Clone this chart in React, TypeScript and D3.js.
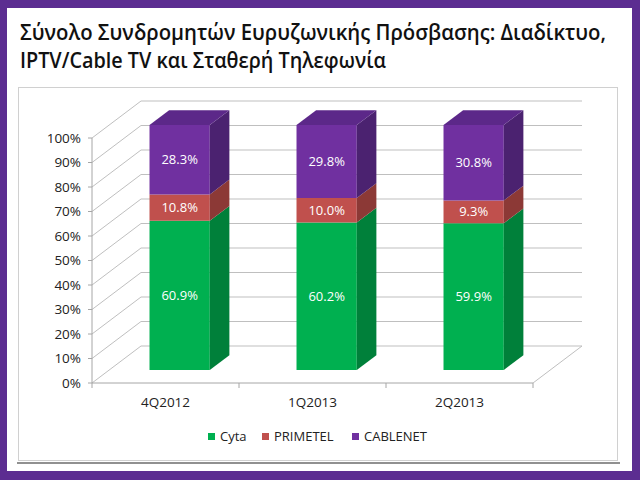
import * as d3 from "d3";

const CATEGORIES = ["4Q2012", "1Q2013", "2Q2013"];
const CYTA = [60.9, 60.2, 59.9];
const PRIMETEL = [10.8, 10.0, 9.3];
const CABLENET = [28.3, 29.8, 30.8];
const Y_TICKS = [0, 10, 20, 30, 40, 50, 60, 70, 80, 90, 100];

const TITLE_1 = "Σύνολο Συνδρομητών Ευρυζωνικής Πρόσβασης: Διαδίκτυο,";
const TITLE_2 = "IPTV/Cable TV και Σταθερή Τηλεφωνία";

const SERIES = [
  { name: "Cyta", values: CYTA, front: "#00B050", side: "#00803A", top: "#009E48" },
  { name: "PRIMETEL", values: PRIMETEL, front: "#C0504D", side: "#8C3936", top: "#A64442" },
  { name: "CABLENET", values: CABLENET, front: "#7030A0", side: "#4B2270", top: "#5C2889" },
];

const W = 640;
const H = 480;
const FRONT_LEFT = 92;
const FRONT_RIGHT = 533;
const FLOOR_Y = 383;
const DEPTH = { dx: 49, dy: -37 };
// bars sit between these fractions of the depth
const BAR_NEAR = 0.35;
const BAR_FAR = 0.75;
const FONT = "'Open Sans', 'Noto Sans', sans-serif";

export default function App() {
  const x = d3.scaleBand<string>().domain(CATEGORIES).range([FRONT_LEFT, FRONT_RIGHT]);
  const y = d3.scaleLinear().domain([0, 100]).range([0, 245]);
  const barW = x.bandwidth() * 0.41;

  // front-floor point -> screen point, pushed back by depth fraction d
  const pt = (px: number, v: number, d: number): [number, number] => [
    px + d * DEPTH.dx,
    FLOOR_Y - y(v) + d * DEPTH.dy,
  ];
  const poly = (pts: [number, number][]) => pts.map((p) => p.join(",")).join(" ");

  const backLeft = FRONT_LEFT + DEPTH.dx;
  const backRight = FRONT_RIGHT + DEPTH.dx;
  const grid = "#BFBFBF";
  const axis = "#A6A6A6";

  const bars = CATEGORIES.map((c, i) => {
    const x0 = x(c)! + (x.bandwidth() - barW) / 2 - 3;
    const x1 = x0 + barW;
    let acc = 0;
    const segs = SERIES.map((s, si) => {
      const v0 = acc;
      const v1 = acc + s.values[i];
      acc = v1;
      const isTop = si === SERIES.length - 1;
      const fBL = pt(x0, v0, BAR_NEAR);
      const fBR = pt(x1, v0, BAR_NEAR);
      const fTR = pt(x1, v1, BAR_NEAR);
      const fTL = pt(x0, v1, BAR_NEAR);
      const bBR = pt(x1, v0, BAR_FAR);
      const bTR = pt(x1, v1, BAR_FAR);
      const bTL = pt(x0, v1, BAR_FAR);
      return (
        <g key={s.name}>
          <polygon points={poly([fBL, fBR, fTR, fTL])} fill={s.front} />
          <polygon points={poly([fBR, bBR, bTR, fTR])} fill={s.side} />
          {isTop && <polygon points={poly([fTL, fTR, bTR, bTL])} fill={s.top} />}
          <text
            x={(fBL[0] + fBR[0]) / 2}
            y={(fBL[1] + fTL[1]) / 2}
            dy="0.35em"
            textAnchor="middle"
            fill="#FFFFFF"
            fontSize={13}
            fontFamily={FONT}
          >
            {s.values[i].toFixed(1)}%
          </text>
        </g>
      );
    });
    return <g key={c}>{segs}</g>;
  });

  const legendItems = [
    { x: 208, label: "Cyta" },
    { x: 262, label: "PRIMETEL" },
    { x: 352, label: "CABLENET" },
  ];

  return (
    <svg
      width={W}
      height={H}
      style={{ position: "absolute", left: 0, top: 0, display: "block" }}
    >
      <rect x={0} y={0} width={W} height={H} fill="#5C2D91" />
      <rect x={7} y={8} width={625} height={463} fill="#FFFFFF" />

      <text x={20} y={40} fontFamily={FONT} fontWeight={600} fontSize={21} fill="#111"
        textLength={586} lengthAdjust="spacingAndGlyphs">
        {TITLE_1}
      </text>
      <text x={20} y={68} fontFamily={FONT} fontWeight={600} fontSize={21} fill="#111"
        textLength={366} lengthAdjust="spacingAndGlyphs">
        {TITLE_2}
      </text>

      <line x1={17} x2={620} y1={463} y2={463} stroke="#222" strokeWidth={1.2} />
      <rect x={18.5} y={87.5} width={599} height={373} fill="#FFFFFF" stroke="#D0D0D0" />

      {/* back wall + side wall gridlines */}
      {Y_TICKS.map((t) => {
        const [fx, fy] = pt(FRONT_LEFT, t, 0);
        const [bx, by] = pt(FRONT_LEFT, t, 1);
        return (
          <g key={t}>
            <line x1={fx} y1={fy} x2={bx} y2={by} stroke={grid} />
            <line x1={backLeft} y1={by} x2={backRight} y2={by} stroke={grid} />
            <line x1={fx - 4} y1={fy} x2={fx} y2={fy} stroke={axis} />
            <text x={81} y={fy} dy="0.35em" textAnchor="end" fontSize={13.5}
              fontFamily={FONT} fill="#222">
              {t}%
            </text>
          </g>
        );
      })}

      {/* floor */}
      <line x1={FRONT_RIGHT} y1={FLOOR_Y} x2={backRight} y2={FLOOR_Y + DEPTH.dy} stroke={grid} />
      <line x1={FRONT_LEFT} y1={FLOOR_Y} x2={FRONT_RIGHT} y2={FLOOR_Y} stroke={axis} />
      <line x1={FRONT_LEFT} y1={FLOOR_Y - y(100)} x2={FRONT_LEFT} y2={FLOOR_Y} stroke={axis} />
      {[...CATEGORIES.map((c) => x(c)!), FRONT_RIGHT].map((bx, i) => (
        <line key={i} x1={bx} x2={bx} y1={FLOOR_Y} y2={FLOOR_Y + 5} stroke={axis} />
      ))}
      {CATEGORIES.map((c) => (
        <text key={c} x={x(c)! + x.bandwidth() / 2} y={407} textAnchor="middle"
          fontSize={13.5} fontFamily={FONT} fill="#222">
          {c}
        </text>
      ))}

      {bars}

      {/* legend */}
      {SERIES.map((s, i) => (
        <g key={s.name}>
          <rect x={legendItems[i].x} y={433} width={7} height={7} fill={s.front} />
          <text x={legendItems[i].x + 12} y={441} fontSize={13} fontFamily={FONT} fill="#222">
            {legendItems[i].label}
          </text>
        </g>
      ))}
    </svg>
  );
}
